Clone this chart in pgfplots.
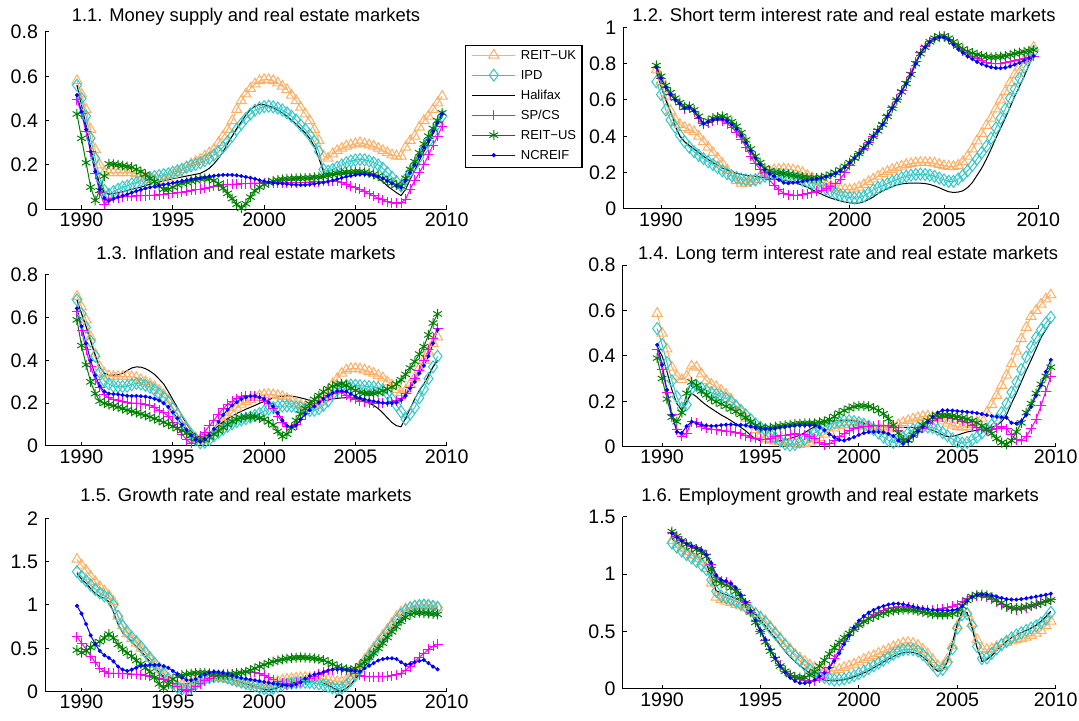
\documentclass[border=0pt]{standalone}
\usepackage{fontspec}
\setmainfont{Liberation Sans}
\usepackage{pgfplots}
\usepackage{pgfplotstable}
\pgfplotsset{compat=1.18}
\definecolor{cUK}{RGB}{255,175,100}
\definecolor{cIPD}{RGB}{50,200,200}
\definecolor{cSP}{RGB}{255,0,255}
\definecolor{cUS}{RGB}{0,128,0}
\definecolor{cNC}{RGB}{0,0,255}

\pgfplotstableread{
t U I H S G N
1989.75 0.58 0.56 0.56 0.495 0.43 0.515
1990.00 0.52 0.50 0.47 0.43 0.32 0.44
1990.25 0.45 0.42 0.38 0.35 0.21 0.36
1990.50 0.36 0.32 0.28 0.26 0.10 0.26
1990.75 0.27 0.23 0.19 0.16 0.04 0.17
1991.00 0.20 0.14 0.11 0.075 0.085 0.09
1991.25 0.165 0.085 0.075 0.022 0.15 0.05
1991.50 0.165 0.068 0.068 0.04 0.205 0.038
1991.75 0.165 0.08 0.072 0.05 0.203 0.047
1992.00 0.165 0.09 0.075 0.053 0.20 0.055
1992.25 0.165 0.10 0.08 0.056 0.197 0.061
1992.50 0.165 0.105 0.085 0.058 0.193 0.067
1992.75 0.165 0.115 0.09 0.059 0.19 0.075
1993.00 0.16 0.12 0.095 0.06 0.18 0.082
1993.25 0.155 0.13 0.10 0.061 0.17 0.088
1993.50 0.145 0.135 0.107 0.062 0.158 0.094
1993.75 0.135 0.143 0.113 0.063 0.14 0.099
1994.00 0.13 0.148 0.118 0.064 0.125 0.103
1994.25 0.125 0.152 0.123 0.065 0.105 0.107
1994.50 0.13 0.156 0.128 0.067 0.09 0.111
1994.75 0.14 0.16 0.133 0.07 0.09 0.115
1995.00 0.155 0.167 0.138 0.072 0.10 0.119
1995.25 0.165 0.174 0.142 0.075 0.11 0.123
1995.50 0.18 0.18 0.146 0.078 0.117 0.127
1995.75 0.19 0.19 0.15 0.082 0.122 0.131
1996.00 0.205 0.196 0.154 0.085 0.127 0.135
1996.25 0.215 0.202 0.158 0.088 0.132 0.138
1996.50 0.225 0.21 0.162 0.09 0.137 0.14
1996.75 0.24 0.22 0.172 0.095 0.14 0.144
1997.00 0.255 0.23 0.185 0.10 0.138 0.148
1997.25 0.27 0.245 0.205 0.104 0.13 0.151
1997.50 0.30 0.26 0.23 0.107 0.115 0.153
1997.75 0.33 0.28 0.26 0.11 0.095 0.155
1998.00 0.36 0.305 0.295 0.112 0.072 0.155
1998.25 0.40 0.33 0.33 0.113 0.048 0.155
1998.50 0.45 0.36 0.365 0.114 0.023 0.153
1998.75 0.49 0.385 0.395 0.115 0.005 0.15
1999.00 0.52 0.41 0.425 0.116 0.025 0.146
1999.25 0.545 0.43 0.45 0.117 0.055 0.142
1999.50 0.565 0.447 0.465 0.118 0.083 0.137
1999.75 0.58 0.457 0.473 0.118 0.10 0.131
2000.00 0.585 0.463 0.472 0.119 0.112 0.126
2000.25 0.585 0.465 0.466 0.12 0.12 0.122
2000.50 0.58 0.462 0.457 0.12 0.127 0.119
2000.75 0.57 0.457 0.447 0.12 0.132 0.117
2001.00 0.555 0.448 0.435 0.12 0.135 0.116
2001.25 0.54 0.435 0.42 0.12 0.137 0.114
2001.50 0.515 0.42 0.403 0.12 0.138 0.112
2001.75 0.49 0.403 0.385 0.12 0.139 0.111
2002.00 0.46 0.38 0.365 0.121 0.14 0.11
2002.25 0.43 0.36 0.345 0.122 0.141 0.11
2002.50 0.40 0.335 0.32 0.123 0.142 0.112
2002.75 0.36 0.305 0.285 0.124 0.144 0.115
2003.00 0.31 0.26 0.23 0.125 0.146 0.118
2003.25 0.24 0.18 0.17 0.126 0.148 0.121
2003.50 0.23 0.172 0.16 0.127 0.152 0.125
2003.75 0.25 0.18 0.158 0.128 0.157 0.13
2004.00 0.265 0.19 0.158 0.126 0.161 0.136
2004.25 0.275 0.20 0.16 0.12 0.164 0.142
2004.50 0.285 0.21 0.161 0.113 0.167 0.147
2004.75 0.29 0.218 0.162 0.105 0.168 0.151
2005.00 0.295 0.222 0.162 0.097 0.17 0.155
2005.25 0.30 0.225 0.162 0.09 0.17 0.157
2005.50 0.295 0.223 0.16 0.08 0.167 0.158
2005.75 0.29 0.218 0.155 0.07 0.163 0.156
2006.00 0.285 0.21 0.15 0.06 0.158 0.153
2006.25 0.275 0.20 0.14 0.05 0.15 0.148
2006.50 0.265 0.185 0.125 0.042 0.14 0.14
2006.75 0.255 0.165 0.105 0.035 0.128 0.128
2007.00 0.245 0.145 0.09 0.03 0.118 0.117
2007.25 0.24 0.125 0.075 0.027 0.11 0.106
2007.50 0.24 0.105 0.062 0.03 0.105 0.098
2007.75 0.28 0.135 0.09 0.045 0.14 0.13
2008.00 0.31 0.17 0.135 0.09 0.18 0.165
2008.25 0.33 0.20 0.175 0.13 0.215 0.20
2008.50 0.37 0.235 0.22 0.165 0.255 0.24
2008.75 0.40 0.27 0.26 0.20 0.295 0.28
2009.00 0.42 0.305 0.295 0.245 0.33 0.31
2009.25 0.45 0.345 0.34 0.29 0.365 0.35
2009.50 0.48 0.385 0.39 0.33 0.40 0.39
2009.75 0.51 0.42 0.435 0.375 0.435 0.43
}\tA

\pgfplotstableread{
t U I H S G N
1989.75 0.765 0.70 0.756 0.78 0.79 0.78
1990.00 0.70 0.63 0.674 0.72 0.73 0.72
1990.25 0.62 0.545 0.60 0.67 0.68 0.67
1990.50 0.54 0.49 0.535 0.63 0.64 0.63
1990.75 0.49 0.45 0.46 0.60 0.61 0.60
1991.00 0.465 0.405 0.40 0.575 0.585 0.58
1991.25 0.447 0.37 0.37 0.55 0.56 0.555
1991.50 0.438 0.34 0.35 0.555 0.565 0.56
1991.75 0.425 0.315 0.33 0.535 0.545 0.54
1992.00 0.40 0.295 0.31 0.50 0.51 0.505
1992.25 0.37 0.277 0.29 0.47 0.47 0.47
1992.50 0.34 0.26 0.272 0.475 0.485 0.48
1992.75 0.31 0.245 0.255 0.485 0.50 0.49
1993.00 0.28 0.227 0.24 0.49 0.505 0.495
1993.25 0.25 0.21 0.225 0.485 0.51 0.495
1993.50 0.215 0.195 0.215 0.47 0.50 0.485
1993.75 0.18 0.183 0.205 0.45 0.48 0.465
1994.00 0.155 0.173 0.197 0.42 0.455 0.44
1994.25 0.142 0.165 0.19 0.385 0.42 0.405
1994.50 0.142 0.16 0.185 0.34 0.38 0.365
1994.75 0.15 0.158 0.182 0.29 0.33 0.32
1995.00 0.162 0.16 0.18 0.25 0.29 0.28
1995.25 0.18 0.17 0.176 0.22 0.255 0.245
1995.50 0.198 0.18 0.172 0.20 0.225 0.215
1995.75 0.208 0.186 0.169 0.16 0.21 0.195
1996.00 0.215 0.19 0.165 0.13 0.20 0.18
1996.25 0.218 0.19 0.162 0.105 0.198 0.16
1996.50 0.22 0.186 0.158 0.088 0.195 0.145
1996.75 0.218 0.18 0.153 0.078 0.19 0.142
1997.00 0.215 0.175 0.147 0.075 0.185 0.145
1997.25 0.21 0.168 0.14 0.075 0.18 0.148
1997.50 0.20 0.16 0.13 0.08 0.175 0.152
1997.75 0.185 0.152 0.12 0.085 0.172 0.157
1998.00 0.172 0.143 0.107 0.09 0.17 0.162
1998.25 0.16 0.134 0.094 0.097 0.17 0.166
1998.50 0.147 0.122 0.082 0.104 0.172 0.17
1998.75 0.135 0.11 0.07 0.115 0.18 0.178
1999.00 0.125 0.097 0.06 0.125 0.19 0.185
1999.25 0.117 0.086 0.052 0.14 0.20 0.195
1999.50 0.11 0.076 0.045 0.165 0.215 0.21
1999.75 0.107 0.068 0.038 0.20 0.235 0.23
2000.00 0.106 0.062 0.034 0.24 0.255 0.255
2000.25 0.11 0.06 0.032 0.275 0.28 0.28
2000.50 0.12 0.063 0.033 0.305 0.305 0.305
2000.75 0.133 0.07 0.04 0.335 0.335 0.335
2001.00 0.15 0.088 0.052 0.365 0.365 0.365
2001.25 0.165 0.105 0.066 0.40 0.40 0.40
2001.50 0.18 0.117 0.085 0.435 0.43 0.43
2001.75 0.195 0.128 0.10 0.47 0.465 0.465
2002.00 0.207 0.14 0.112 0.515 0.51 0.51
2002.25 0.217 0.152 0.123 0.56 0.555 0.555
2002.50 0.227 0.162 0.132 0.605 0.60 0.60
2002.75 0.236 0.172 0.138 0.65 0.645 0.645
2003.00 0.244 0.18 0.141 0.70 0.69 0.69
2003.25 0.25 0.186 0.143 0.75 0.74 0.74
2003.50 0.254 0.19 0.143 0.81 0.80 0.80
2003.75 0.256 0.192 0.142 0.86 0.855 0.855
2004.00 0.256 0.19 0.14 0.895 0.89 0.89
2004.25 0.255 0.186 0.135 0.92 0.92 0.92
2004.50 0.252 0.18 0.127 0.94 0.94 0.935
2004.75 0.245 0.17 0.117 0.948 0.95 0.945
2005.00 0.238 0.16 0.105 0.948 0.952 0.945
2005.25 0.234 0.152 0.095 0.935 0.94 0.93
2005.50 0.233 0.152 0.091 0.91 0.92 0.905
2005.75 0.24 0.165 0.093 0.89 0.90 0.88
2006.00 0.26 0.185 0.10 0.87 0.88 0.86
2006.25 0.29 0.21 0.118 0.855 0.868 0.84
2006.50 0.33 0.24 0.145 0.84 0.858 0.825
2006.75 0.375 0.275 0.185 0.828 0.85 0.81
2007.00 0.415 0.31 0.225 0.815 0.843 0.798
2007.25 0.46 0.345 0.275 0.805 0.837 0.788
2007.50 0.50 0.39 0.33 0.80 0.835 0.78
2007.75 0.55 0.445 0.39 0.80 0.836 0.776
2008.00 0.60 0.50 0.445 0.80 0.838 0.775
2008.25 0.645 0.55 0.50 0.805 0.842 0.778
2008.50 0.695 0.61 0.56 0.81 0.848 0.785
2008.75 0.74 0.66 0.62 0.815 0.855 0.795
2009.00 0.78 0.72 0.675 0.82 0.86 0.805
2009.25 0.82 0.78 0.73 0.828 0.865 0.818
2009.50 0.86 0.83 0.79 0.835 0.87 0.83
2009.75 0.89 0.866 0.857 0.84 0.875 0.842
}\tB

\pgfplotstableread{
t U I H S G N
1989.75 0.70 0.683 0.683 0.628 0.59 0.644
1990.00 0.65 0.62 0.62 0.54 0.47 0.56
1990.25 0.59 0.555 0.56 0.45 0.38 0.48
1990.50 0.51 0.49 0.49 0.37 0.30 0.40
1990.75 0.43 0.42 0.425 0.31 0.245 0.33
1991.00 0.37 0.345 0.37 0.275 0.21 0.28
1991.25 0.34 0.305 0.34 0.24 0.20 0.255
1991.50 0.328 0.29 0.332 0.225 0.194 0.245
1991.75 0.325 0.28 0.332 0.218 0.188 0.243
1992.00 0.325 0.278 0.333 0.212 0.182 0.242
1992.25 0.325 0.278 0.34 0.207 0.175 0.238
1992.50 0.325 0.28 0.353 0.204 0.168 0.235
1992.75 0.323 0.287 0.365 0.201 0.162 0.234
1993.00 0.32 0.293 0.37 0.20 0.156 0.234
1993.25 0.31 0.29 0.369 0.198 0.15 0.233
1993.50 0.30 0.284 0.362 0.195 0.143 0.231
1993.75 0.29 0.275 0.35 0.19 0.136 0.227
1994.00 0.277 0.262 0.335 0.18 0.128 0.221
1994.25 0.26 0.245 0.313 0.168 0.12 0.213
1994.50 0.24 0.228 0.29 0.155 0.111 0.20
1994.75 0.215 0.205 0.255 0.14 0.102 0.183
1995.00 0.18 0.175 0.217 0.11 0.092 0.158
1995.25 0.15 0.148 0.18 0.085 0.082 0.13
1995.50 0.12 0.115 0.14 0.055 0.072 0.10
1995.75 0.083 0.083 0.105 0.03 0.062 0.075
1996.00 0.055 0.055 0.072 0.012 0.048 0.05
1996.25 0.038 0.03 0.045 0.025 0.035 0.03
1996.50 0.032 0.015 0.033 0.045 0.028 0.02
1996.75 0.032 0.018 0.043 0.065 0.03 0.032
1997.00 0.045 0.03 0.06 0.095 0.042 0.05
1997.25 0.062 0.047 0.078 0.12 0.055 0.08
1997.50 0.085 0.063 0.095 0.148 0.07 0.113
1997.75 0.113 0.078 0.113 0.175 0.086 0.145
1998.00 0.135 0.092 0.127 0.195 0.10 0.17
1998.25 0.157 0.104 0.14 0.21 0.115 0.19
1998.50 0.178 0.114 0.152 0.222 0.125 0.205
1998.75 0.195 0.122 0.162 0.23 0.132 0.22
1999.00 0.207 0.128 0.172 0.235 0.136 0.228
1999.25 0.218 0.135 0.181 0.235 0.137 0.233
1999.50 0.227 0.143 0.19 0.232 0.136 0.234
1999.75 0.235 0.152 0.20 0.225 0.131 0.228
2000.00 0.24 0.163 0.208 0.215 0.125 0.22
2000.25 0.241 0.173 0.216 0.20 0.113 0.205
2000.50 0.24 0.18 0.225 0.175 0.098 0.185
2000.75 0.236 0.185 0.23 0.14 0.068 0.155
2001.00 0.231 0.187 0.233 0.11 0.045 0.12
2001.25 0.222 0.187 0.235 0.09 0.055 0.095
2001.50 0.212 0.186 0.233 0.085 0.085 0.09
2001.75 0.20 0.183 0.23 0.10 0.12 0.097
2002.00 0.19 0.179 0.225 0.122 0.15 0.125
2002.25 0.185 0.172 0.22 0.15 0.175 0.15
2002.50 0.186 0.166 0.213 0.182 0.198 0.168
2002.75 0.192 0.168 0.208 0.20 0.218 0.185
2003.00 0.208 0.175 0.21 0.213 0.236 0.203
2003.25 0.23 0.19 0.213 0.226 0.254 0.22
2003.50 0.26 0.21 0.216 0.236 0.268 0.235
2003.75 0.29 0.24 0.22 0.245 0.28 0.248
2004.00 0.315 0.262 0.223 0.25 0.287 0.257
2004.25 0.34 0.277 0.225 0.248 0.29 0.257
2004.50 0.355 0.283 0.226 0.238 0.285 0.254
2004.75 0.362 0.285 0.225 0.228 0.27 0.243
2005.00 0.363 0.284 0.223 0.218 0.26 0.232
2005.25 0.36 0.282 0.218 0.21 0.25 0.224
2005.50 0.355 0.28 0.21 0.206 0.246 0.218
2005.75 0.348 0.278 0.20 0.203 0.245 0.213
2006.00 0.34 0.276 0.19 0.201 0.246 0.209
2006.25 0.33 0.272 0.175 0.20 0.25 0.205
2006.50 0.318 0.262 0.155 0.201 0.258 0.202
2006.75 0.30 0.245 0.132 0.204 0.266 0.20
2007.00 0.285 0.22 0.11 0.208 0.275 0.201
2007.25 0.265 0.19 0.095 0.212 0.29 0.204
2007.50 0.25 0.16 0.09 0.22 0.31 0.215
2007.75 0.26 0.125 0.13 0.245 0.335 0.235
2008.00 0.29 0.15 0.175 0.275 0.365 0.27
2008.25 0.32 0.18 0.22 0.315 0.395 0.30
2008.50 0.365 0.225 0.26 0.355 0.43 0.34
2008.75 0.40 0.265 0.29 0.40 0.465 0.375
2009.00 0.44 0.315 0.33 0.45 0.52 0.42
2009.25 0.48 0.37 0.37 0.505 0.575 0.48
2009.50 0.51 0.42 0.40 0.55 0.618 0.543
}\tC

\pgfplotstableread{
t U I H S G N
1989.75 0.587 0.52 0.44 0.426 0.39 0.448
1990.00 0.50 0.45 0.40 0.34 0.30 0.36
1990.25 0.43 0.37 0.33 0.24 0.21 0.25
1990.50 0.35 0.29 0.25 0.14 0.13 0.14
1990.75 0.31 0.22 0.19 0.075 0.11 0.065
1991.00 0.295 0.17 0.16 0.045 0.15 0.06
1991.25 0.31 0.185 0.20 0.06 0.235 0.09
1991.50 0.355 0.255 0.235 0.11 0.285 0.11
1991.75 0.35 0.27 0.22 0.105 0.27 0.103
1992.00 0.32 0.258 0.20 0.09 0.245 0.096
1992.25 0.29 0.248 0.183 0.082 0.228 0.093
1992.50 0.275 0.238 0.168 0.077 0.21 0.091
1992.75 0.264 0.23 0.154 0.074 0.198 0.092
1993.00 0.248 0.222 0.14 0.071 0.188 0.095
1993.25 0.23 0.213 0.128 0.069 0.178 0.097
1993.50 0.21 0.198 0.115 0.067 0.166 0.098
1993.75 0.18 0.18 0.10 0.063 0.155 0.097
1994.00 0.155 0.16 0.085 0.056 0.142 0.096
1994.25 0.125 0.14 0.07 0.049 0.128 0.094
1994.50 0.10 0.12 0.05 0.042 0.11 0.089
1994.75 0.075 0.10 0.035 0.037 0.093 0.084
1995.00 0.052 0.085 0.026 0.033 0.085 0.08
1995.25 0.035 0.073 0.022 0.032 0.081 0.078
1995.50 0.028 0.055 0.021 0.038 0.084 0.079
1995.75 0.024 0.04 0.022 0.044 0.088 0.081
1996.00 0.022 0.025 0.026 0.048 0.091 0.085
1996.25 0.018 0.012 0.03 0.051 0.094 0.088
1996.50 0.015 0.007 0.036 0.054 0.097 0.091
1996.75 0.012 0.01 0.043 0.056 0.10 0.093
1997.00 0.01 0.02 0.05 0.055 0.102 0.094
1997.25 0.013 0.032 0.062 0.052 0.103 0.094
1997.50 0.02 0.046 0.076 0.045 0.103 0.094
1997.75 0.03 0.06 0.088 0.034 0.103 0.093
1998.00 0.04 0.074 0.098 0.02 0.107 0.085
1998.25 0.055 0.088 0.106 0.008 0.112 0.073
1998.50 0.068 0.098 0.11 0.012 0.12 0.055
1998.75 0.082 0.105 0.114 0.027 0.133 0.042
1999.00 0.092 0.11 0.116 0.045 0.148 0.03
1999.25 0.096 0.114 0.117 0.058 0.159 0.027
1999.50 0.098 0.114 0.116 0.07 0.169 0.034
1999.75 0.098 0.111 0.115 0.079 0.176 0.042
2000.00 0.095 0.106 0.111 0.084 0.18 0.052
2000.25 0.09 0.099 0.104 0.087 0.18 0.06
2000.50 0.085 0.09 0.097 0.09 0.177 0.064
2000.75 0.081 0.075 0.092 0.093 0.17 0.066
2001.00 0.077 0.06 0.09 0.095 0.159 0.065
2001.25 0.074 0.042 0.088 0.094 0.145 0.063
2001.50 0.078 0.028 0.087 0.092 0.123 0.057
2001.75 0.086 0.019 0.086 0.085 0.095 0.047
2002.00 0.096 0.025 0.085 0.072 0.06 0.028
2002.25 0.106 0.04 0.085 0.03 0.028 0.013
2002.50 0.115 0.06 0.085 0.025 0.028 0.025
2002.75 0.122 0.075 0.085 0.048 0.05 0.048
2003.00 0.128 0.083 0.084 0.066 0.072 0.068
2003.25 0.133 0.088 0.082 0.082 0.095 0.088
2003.50 0.135 0.087 0.079 0.10 0.115 0.11
2003.75 0.13 0.084 0.072 0.117 0.13 0.132
2004.00 0.124 0.075 0.063 0.126 0.136 0.15
2004.25 0.113 0.062 0.052 0.131 0.139 0.16
2004.50 0.103 0.048 0.044 0.13 0.138 0.16
2004.75 0.095 0.034 0.046 0.126 0.136 0.159
2005.00 0.088 0.022 0.051 0.12 0.132 0.157
2005.25 0.086 0.016 0.058 0.113 0.127 0.155
2005.50 0.088 0.018 0.065 0.105 0.122 0.153
2005.75 0.097 0.03 0.069 0.095 0.115 0.151
2006.00 0.108 0.042 0.072 0.085 0.105 0.148
2006.25 0.125 0.06 0.076 0.077 0.092 0.144
2006.50 0.15 0.077 0.08 0.073 0.077 0.139
2006.75 0.185 0.097 0.085 0.076 0.058 0.135
2007.00 0.225 0.118 0.094 0.081 0.036 0.132
2007.25 0.27 0.15 0.11 0.087 0.018 0.13
2007.50 0.315 0.19 0.14 0.08 0.01 0.128
2007.75 0.365 0.24 0.19 0.052 0.027 0.105
2008.00 0.42 0.285 0.235 0.03 0.065 0.102
2008.25 0.475 0.34 0.285 0.028 0.105 0.112
2008.50 0.525 0.395 0.335 0.044 0.15 0.14
2008.75 0.573 0.44 0.382 0.08 0.19 0.176
2009.00 0.60 0.48 0.43 0.12 0.235 0.225
2009.25 0.627 0.515 0.48 0.18 0.275 0.27
2009.50 0.65 0.545 0.515 0.245 0.31 0.33
2009.75 0.668 0.57 0.55 0.308 0.35 0.382
}\tD

\pgfplotstableread{
t U I H S G N
1989.75 1.527 1.385 1.365 0.635 0.48 0.99
1990.00 1.46 1.33 1.30 0.56 0.45 0.90
1990.25 1.40 1.28 1.25 0.49 0.47 0.78
1990.50 1.33 1.23 1.19 0.41 0.51 0.65
1990.75 1.27 1.18 1.135 0.34 0.55 0.55
1991.00 1.21 1.14 1.10 0.27 0.577 0.47
1991.25 1.16 1.105 1.075 0.23 0.62 0.42
1991.50 1.11 1.08 1.04 0.215 0.665 0.39
1991.75 1.04 1.00 0.92 0.212 0.62 0.35
1992.00 0.87 0.87 0.78 0.21 0.545 0.29
1992.25 0.76 0.76 0.68 0.208 0.49 0.255
1992.50 0.67 0.69 0.63 0.206 0.445 0.24
1992.75 0.61 0.63 0.58 0.204 0.41 0.255
1993.00 0.56 0.577 0.52 0.20 0.36 0.275
1993.25 0.50 0.52 0.47 0.196 0.32 0.298
1993.50 0.45 0.455 0.41 0.192 0.275 0.305
1993.75 0.38 0.39 0.345 0.18 0.23 0.308
1994.00 0.31 0.33 0.28 0.165 0.165 0.308
1994.25 0.25 0.27 0.225 0.155 0.09 0.308
1994.50 0.19 0.21 0.165 0.14 0.04 0.295
1994.75 0.135 0.15 0.115 0.125 0.09 0.275
1995.00 0.09 0.09 0.095 0.10 0.145 0.24
1995.25 0.075 0.05 0.088 0.065 0.178 0.205
1995.50 0.077 0.03 0.09 0.025 0.19 0.165
1995.75 0.09 0.03 0.094 0.018 0.20 0.135
1996.00 0.11 0.055 0.10 0.022 0.208 0.133
1996.25 0.125 0.085 0.112 0.055 0.215 0.145
1996.50 0.14 0.12 0.123 0.09 0.218 0.175
1996.75 0.15 0.145 0.135 0.125 0.218 0.198
1997.00 0.156 0.162 0.143 0.155 0.212 0.22
1997.25 0.16 0.172 0.148 0.175 0.204 0.23
1997.50 0.158 0.175 0.153 0.19 0.196 0.226
1997.75 0.15 0.173 0.154 0.20 0.192 0.22
1998.00 0.14 0.16 0.147 0.205 0.196 0.205
1998.25 0.127 0.14 0.137 0.208 0.203 0.185
1998.50 0.115 0.125 0.125 0.212 0.21 0.17
1998.75 0.10 0.11 0.108 0.216 0.218 0.158
1999.00 0.09 0.095 0.09 0.22 0.23 0.148
1999.25 0.082 0.083 0.073 0.225 0.248 0.14
1999.50 0.078 0.07 0.055 0.225 0.27 0.132
1999.75 0.077 0.05 0.04 0.205 0.292 0.122
2000.00 0.077 0.035 0.025 0.19 0.31 0.113
2000.25 0.085 0.027 0.02 0.16 0.33 0.104
2000.50 0.105 0.04 0.03 0.135 0.346 0.096
2000.75 0.12 0.06 0.045 0.115 0.36 0.087
2001.00 0.133 0.078 0.068 0.098 0.372 0.078
2001.25 0.143 0.09 0.086 0.09 0.382 0.072
2001.50 0.15 0.099 0.10 0.088 0.39 0.07
2001.75 0.155 0.105 0.108 0.10 0.394 0.085
2002.00 0.16 0.108 0.114 0.115 0.396 0.11
2002.25 0.165 0.108 0.12 0.135 0.394 0.15
2002.50 0.162 0.107 0.123 0.154 0.39 0.181
2002.75 0.157 0.10 0.123 0.18 0.384 0.198
2003.00 0.152 0.09 0.118 0.20 0.375 0.21
2003.25 0.146 0.078 0.10 0.222 0.364 0.225
2003.50 0.14 0.062 0.08 0.245 0.34 0.245
2003.75 0.128 0.045 0.045 0.254 0.318 0.255
2004.00 0.115 0.032 0.018 0.258 0.29 0.258
2004.25 0.115 0.045 0.01 0.256 0.272 0.257
2004.50 0.135 0.075 0.04 0.25 0.258 0.253
2004.75 0.18 0.13 0.085 0.238 0.252 0.248
2005.00 0.235 0.19 0.15 0.215 0.265 0.24
2005.25 0.30 0.26 0.212 0.192 0.30 0.232
2005.50 0.37 0.33 0.29 0.18 0.345 0.27
2005.75 0.44 0.40 0.36 0.174 0.395 0.30
2006.00 0.51 0.475 0.43 0.173 0.445 0.33
2006.25 0.58 0.545 0.505 0.173 0.50 0.36
2006.50 0.65 0.615 0.58 0.175 0.56 0.377
2006.75 0.72 0.685 0.65 0.178 0.625 0.385
2007.00 0.79 0.755 0.72 0.185 0.69 0.385
2007.25 0.865 0.825 0.78 0.198 0.75 0.377
2007.50 0.92 0.89 0.84 0.215 0.81 0.34
2007.75 0.955 0.935 0.885 0.25 0.86 0.31
2008.00 0.975 0.965 0.925 0.29 0.89 0.32
2008.25 0.988 0.985 0.955 0.345 0.908 0.34
2008.50 0.99 0.995 0.962 0.40 0.911 0.355
2008.75 0.99 1.0 0.962 0.44 0.907 0.365
2009.00 0.988 0.995 0.962 0.49 0.903 0.33
2009.25 0.98 0.985 0.962 0.525 0.897 0.29
2009.50 0.973 0.973 0.962 0.55 0.892 0.258
}\tE

\pgfplotstableread{
t U I H S G N
1990.50 1.29 1.27 1.31 1.36 1.37 1.355
1990.75 1.255 1.235 1.275 1.325 1.33 1.32
1991.00 1.225 1.20 1.245 1.29 1.29 1.29
1991.25 1.195 1.17 1.215 1.265 1.26 1.265
1991.50 1.165 1.14 1.19 1.24 1.235 1.245
1991.75 1.135 1.11 1.165 1.22 1.215 1.23
1992.00 1.105 1.08 1.135 1.20 1.19 1.21
1992.25 1.05 1.04 1.09 1.17 1.155 1.17
1992.50 0.92 0.95 0.98 1.08 1.04 1.096
1992.75 0.80 0.85 0.855 0.97 0.94 0.99
1993.00 0.78 0.81 0.835 0.94 0.92 0.95
1993.25 0.765 0.795 0.82 0.93 0.905 0.94
1993.50 0.75 0.78 0.805 0.905 0.88 0.92
1993.75 0.735 0.762 0.79 0.865 0.85 0.88
1994.00 0.723 0.74 0.765 0.81 0.80 0.82
1994.25 0.705 0.715 0.735 0.75 0.75 0.755
1994.50 0.683 0.685 0.695 0.67 0.67 0.68
1994.75 0.66 0.655 0.65 0.585 0.58 0.60
1995.00 0.63 0.62 0.60 0.50 0.50 0.51
1995.25 0.595 0.58 0.55 0.42 0.41 0.43
1995.50 0.545 0.53 0.495 0.34 0.33 0.345
1995.75 0.495 0.48 0.445 0.27 0.26 0.27
1996.00 0.445 0.43 0.385 0.205 0.20 0.20
1996.25 0.395 0.38 0.33 0.155 0.155 0.145
1996.50 0.35 0.335 0.28 0.12 0.125 0.10
1996.75 0.305 0.29 0.24 0.10 0.105 0.07
1997.00 0.27 0.245 0.205 0.088 0.098 0.052
1997.25 0.24 0.205 0.17 0.075 0.10 0.05
1997.50 0.21 0.17 0.14 0.065 0.12 0.058
1997.75 0.185 0.14 0.112 0.07 0.15 0.078
1998.00 0.17 0.115 0.09 0.095 0.20 0.11
1998.25 0.16 0.10 0.077 0.14 0.25 0.14
1998.50 0.157 0.088 0.072 0.19 0.305 0.185
1998.75 0.158 0.078 0.071 0.265 0.36 0.245
1999.00 0.17 0.08 0.073 0.345 0.405 0.31
1999.25 0.187 0.087 0.08 0.415 0.447 0.39
1999.50 0.20 0.10 0.09 0.47 0.485 0.465
1999.75 0.215 0.115 0.105 0.515 0.52 0.535
2000.00 0.235 0.135 0.12 0.555 0.555 0.595
2000.25 0.257 0.155 0.14 0.59 0.587 0.635
2000.50 0.275 0.178 0.16 0.622 0.61 0.665
2000.75 0.29 0.202 0.185 0.645 0.63 0.688
2001.00 0.31 0.227 0.208 0.665 0.645 0.707
2001.25 0.328 0.252 0.235 0.683 0.66 0.722
2001.50 0.345 0.278 0.26 0.698 0.672 0.735
2001.75 0.368 0.303 0.283 0.71 0.683 0.742
2002.00 0.385 0.325 0.302 0.717 0.688 0.744
2002.25 0.40 0.342 0.315 0.72 0.691 0.737
2002.50 0.405 0.346 0.322 0.714 0.69 0.728
2002.75 0.397 0.343 0.318 0.706 0.686 0.718
2003.00 0.38 0.33 0.305 0.699 0.68 0.708
2003.25 0.345 0.30 0.28 0.692 0.67 0.701
2003.50 0.305 0.26 0.24 0.691 0.661 0.694
2003.75 0.255 0.21 0.19 0.692 0.653 0.689
2004.00 0.205 0.16 0.155 0.695 0.649 0.685
2004.25 0.195 0.17 0.16 0.698 0.648 0.684
2004.50 0.26 0.23 0.24 0.707 0.649 0.684
2004.75 0.38 0.35 0.40 0.72 0.655 0.686
2005.00 0.55 0.53 0.57 0.735 0.67 0.695
2005.25 0.655 0.645 0.675 0.758 0.72 0.72
2005.50 0.655 0.655 0.665 0.785 0.77 0.765
2005.75 0.57 0.55 0.53 0.803 0.805 0.80
2006.00 0.43 0.37 0.36 0.808 0.818 0.82
2006.25 0.35 0.265 0.24 0.808 0.822 0.824
2006.50 0.345 0.27 0.255 0.80 0.815 0.822
2006.75 0.35 0.31 0.29 0.78 0.80 0.814
2007.00 0.37 0.35 0.335 0.758 0.775 0.804
2007.25 0.39 0.385 0.375 0.735 0.75 0.793
2007.50 0.405 0.415 0.415 0.715 0.725 0.782
2007.75 0.418 0.445 0.447 0.70 0.707 0.779
2008.00 0.428 0.47 0.47 0.692 0.703 0.778
2008.25 0.438 0.49 0.49 0.698 0.706 0.782
2008.50 0.45 0.51 0.51 0.708 0.715 0.789
2008.75 0.465 0.53 0.53 0.722 0.725 0.797
2009.00 0.485 0.55 0.555 0.737 0.736 0.804
2009.25 0.51 0.575 0.59 0.75 0.748 0.812
2009.50 0.55 0.61 0.63 0.765 0.762 0.82
2009.75 0.591 0.668 0.678 0.779 0.775 0.83
}\tF

\pgfplotsset{
  panel/.style={
    scale only axis, anchor=south west,
    axis lines=left, axis line style={-, line width=0.5pt, black},
    xmin=1988, xmax=2010, ymin=0,
    xtick={1990,1995,2000,2005,2010},
    xticklabels={1990,1995,2000,2005,2010},
    tick align=inside, major tick length=2pt,
    tick style={line width=0.5pt, black},
    ticklabel style={font=\fontsize{9.8}{11}\selectfont},
    xticklabel style={inner sep=1.5pt},
    enlargelimits=false, clip=false,
  },
  sUK/.style={color=cUK, line width=0.5pt, mark=triangle, mark size=2.9pt, mark options={solid, line width=0.5pt}},
  sIPD/.style={color=cIPD, line width=0.5pt, mark=diamond, mark size=3pt, mark options={solid, line width=0.5pt}},
  sH/.style={color=black, line width=0.5pt, no markers},
  sSP/.style={color=cSP, line width=0.5pt, mark=+, mark size=2.5pt, mark options={solid, line width=0.5pt}},
  sUS/.style={color=cUS, line width=0.5pt, mark=asterisk, mark size=2.5pt, mark options={solid, line width=0.5pt}},
  sNC/.style={color=cNC, line width=0.5pt, mark=*, mark size=0.75pt, mark options={solid}},
}
\newcommand{\allseries}[1]{%
  \addplot[sUK] table[x=t,y=U]{#1};
  \addplot[sIPD] table[x=t,y=I]{#1};
  \addplot[sH] table[x=t,y=H]{#1};
  \addplot[sSP] table[x=t,y=S]{#1};
  \addplot[sUS] table[x=t,y=G]{#1};
  \addplot[sNC] table[x=t,y=N]{#1};
}
\tikzset{ttl/.style={anchor=base, font=\fontsize{9.2}{11}\selectfont, inner sep=0pt}}

\begin{document}
\begin{tikzpicture}
\useasboundingbox (0,0) rectangle (539.5pt,360.5pt);

\begin{axis}[panel, at={(22.5pt,255.85pt)}, width=200.85pt, height=88.65pt,
  ymax=0.8, ytick={0,0.2,0.4,0.6,0.8}, yticklabels={0,0.2,0.4,0.6,0.8},
  legend style={at={(1.0456,0.9267)}, anchor=north west, line width=0.65pt,
    fill=white, font=\fontsize{6.5}{7}\selectfont, inner xsep=3pt, inner ysep=0.5pt,
    row sep=0pt, column sep=2.5pt,
    nodes={inner sep=0pt, text height=6.5pt, text depth=3.5pt, anchor=base west}},
  legend cell align=left,
  legend image code/.code={\draw[mark repeat=2, mark phase=2, #1, line width=0.6pt] plot coordinates {(0pt,2.25pt) (10.75pt,2.25pt) (21.5pt,2.25pt)};}]
\allseries{\tA}
\legend{REIT−UK,IPD,Halifax,SP/CS,REIT−US,NCREIF}
\end{axis}

\begin{axis}[panel, at={(311.65pt,256pt)}, width=207.5pt, height=90.85pt,
  ymax=1, ytick={0,0.2,0.4,0.6,0.8,1}, yticklabels={0,0.2,0.4,0.6,0.8,1}]
\allseries{\tB}
\end{axis}

\begin{axis}[panel, at={(22.5pt,137.5pt)}, width=200.85pt, height=85.5pt,
  ymax=0.8, ytick={0,0.2,0.4,0.6,0.8}, yticklabels={0,0.2,0.4,0.6,0.8}]
\allseries{\tC}
\end{axis}

\begin{axis}[panel, at={(311.35pt,137.15pt)}, width=216.5pt, height=90.85pt,
  ymax=0.8, ytick={0,0.2,0.4,0.6,0.8}, yticklabels={0,0.2,0.4,0.6,0.8}]
\allseries{\tD}
\end{axis}

\begin{axis}[panel, at={(22.5pt,14.65pt)}, width=200.85pt, height=86.7pt,
  ymax=2, ytick={0,0.5,1,1.5,2}, yticklabels={0,0.5,1,1.5,2}]
\allseries{\tE}
\end{axis}

\begin{axis}[panel, at={(311.35pt,16pt)}, width=216.5pt, height=86.15pt,
  ymax=1.5, ytick={0,0.5,1,1.5}, yticklabels={0,0.5,1,1.5}]
\allseries{\tF}
\end{axis}

\node[ttl] at (123pt,349.5pt) {1.1. Money supply and real estate markets};
\node[ttl] at (422pt,349.5pt) {1.2. Short term interest rate and real estate markets};
\node[ttl] at (123pt,230.5pt) {1.3. Inflation and real estate markets};
\node[ttl] at (424pt,230.5pt) {1.4. Long term interest rate and real estate markets};
\node[ttl] at (123pt,109.5pt) {1.5. Growth rate and real estate markets};
\node[ttl] at (420pt,109.5pt) {1.6. Employment growth and real estate markets};
\end{tikzpicture}
\end{document}
